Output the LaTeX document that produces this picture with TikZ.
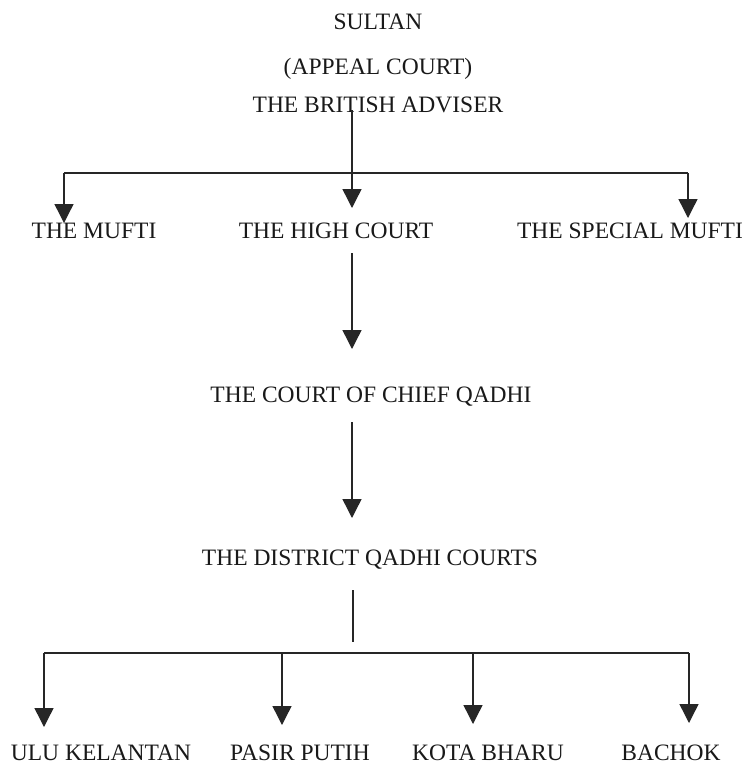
\documentclass[tikz,border=0pt]{standalone}
\usepackage{fontspec}
\setmainfont{Liberation Serif}
\usetikzlibrary{arrows.meta}
\tikzset{
  lbl/.style={anchor=base, inner sep=0pt, font=\fontsize{23.5}{28}\selectfont, text=black!90},
  conn/.style={line width=1.4pt, draw=black!85},
  arr/.style={conn, -{Triangle[length=19pt,width=19pt]}}
}
\begin{document}
\begin{tikzpicture}[x=1pt,y=-1pt]
\fill[white] (0,0) rectangle (746,764);
\useasboundingbox (0,0) rectangle (746,764);
% nodes
\node[lbl] (sultan) at (378,29) {SULTAN};
\node[lbl] (appeal) at (378,74) {(APPEAL COURT)};
\node[lbl] (adviser) at (378,112) {THE BRITISH ADVISER};
\node[lbl] (mufti) at (94,238) {THE MUFTI};
\node[lbl] (high) at (336,238) {THE HIGH COURT};
\node[lbl] (special) at (630,238) {THE SPECIAL MUFTI};
\node[lbl] (chief) at (371,402) {THE COURT OF CHIEF QADHI};
\node[lbl] (district) at (370,565) {THE DISTRICT QADHI COURTS};
\node[lbl] (ulu) at (101,760) {ULU KELANTAN};
\node[lbl] (pasir) at (300,760) {PASIR PUTIH};
\node[lbl] (kota) at (488,760) {KOTA BHARU};
\node[lbl] (bachok) at (671,760) {BACHOK};
% coordinates
\coordinate (advout) at (352,110);
\coordinate (barL) at (64,173);
\coordinate (barR) at (688,173);
\coordinate (muftiin) at (64,223);
\coordinate (highin) at (352,208);
\coordinate (specialin) at (688,218);
\coordinate (highout) at (352,253);
\coordinate (chiefin) at (352,349);
\coordinate (chiefout) at (352,422);
\coordinate (districtin) at (352,518);
\coordinate (districtout) at (353,590);
\coordinate (stemend) at (353,642);
\coordinate (b1) at (44,653);
\coordinate (b2) at (282,653);
\coordinate (b3) at (473,653);
\coordinate (b4) at (689,653);
\coordinate (uluin) at (44,727);
\coordinate (pasirin) at (282,725);
\coordinate (kotain) at (473,724);
\coordinate (bachokin) at (689,723);
% connectors
\draw[arr] (advout) -- (highin);
\draw[conn] (barL) -- (barR);
\draw[arr] (barL) -- (muftiin);
\draw[arr] (barR) -- (specialin);
\draw[arr] (highout) -- (chiefin);
\draw[arr] (chiefout) -- (districtin);
\draw[conn] (districtout) -- (stemend);
\draw[conn] (b1) -- (b4);
\draw[arr] (b1) -- (uluin);
\draw[arr] (b2) -- (pasirin);
\draw[arr] (b3) -- (kotain);
\draw[arr] (b4) -- (bachokin);
\end{tikzpicture}
\end{document}
